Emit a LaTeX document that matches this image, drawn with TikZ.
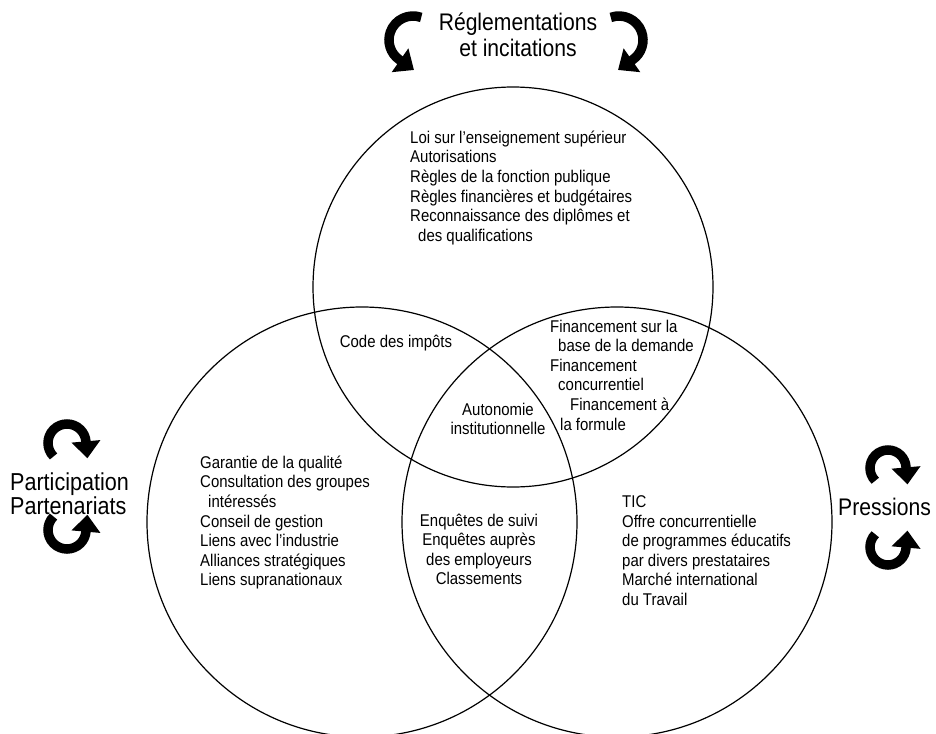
\documentclass[tikz,border=0pt]{standalone}
\usepackage{fontspec}
\setmainfont{Liberation Sans}[FakeStretch=0.88]
\usetikzlibrary{arrows.meta}
\begin{document}
\begin{tikzpicture}[x=1pt,y=1pt,
  ring/.style={draw, circle, line width=1.2pt, inner sep=0pt},
  body/.style={inner sep=0pt, align=left, anchor=north west, font=\fontsize{17}{19.6}\selectfont},
  bodyc/.style={inner sep=0pt, align=center, anchor=north, font=\fontsize{17}{19.6}\selectfont},
  big/.style={inner sep=0pt, font=\fontsize{24}{26}\selectfont},
  swirl/.style={line width=9.5pt, -{Triangle[length=17pt,width=28pt]}}]
\useasboundingbox (0,0) rectangle (936,-733);
\clip (0,0) rectangle (936,-733);
% circles
\node[ring, minimum size=400pt] (cT) at (513,-287) {};
\node[ring, minimum size=430pt] (cL) at (362,-522) {};
\node[ring, minimum size=430pt] (cR) at (617,-522) {};
% curved arrows
\draw[swirl] (413,-40) ++(70:24pt) arc[start angle=70, end angle=235, radius=24pt] -- ++(325:18pt);
\draw[swirl] (619,-40) ++(110:24pt) arc[start angle=110, end angle=-55, radius=24pt] -- ++(215:18pt);
\draw[swirl] (67,-443) ++(225:19pt) arc[start angle=225, end angle=5, radius=19pt] -- ++(-85:17pt);
\draw[swirl] (67,-530) ++(135:19pt) arc[start angle=135, end angle=355, radius=19pt] -- ++(85:17pt);
\draw[swirl] (888,-468) ++(225:18pt) arc[start angle=225, end angle=5, radius=18pt] -- ++(-85:18pt);
\draw[swirl] (888,-547) ++(135:18pt) arc[start angle=135, end angle=355, radius=18pt] -- ++(85:18pt);
% outer labels
\node[big, align=center] (title) at (518,-35) {Réglementations\\et incitations};
\node[big, align=left, anchor=north west, font=\fontsize{24.5}{22}\selectfont] (part) at (10,-473) {Participation\\Partenariats};
\node[big, anchor=base west] (press) at (838,-515) {Pressions};
% texts in circles
\node[body] (reg) at (410,-130.5) {Loi sur l’enseignement supérieur\\Autorisations\\Règles de la fonction publique\\Règles financières et budgétaires\\Reconnaissance des diplômes et\\\hspace*{8pt}des qualifications};
\node[inner sep=0pt, anchor=base, font=\fontsize{17}{19.6}\selectfont] (code) at (396,-347) {Code des impôts};
\node[body] (fin) at (550,-319.5) {Financement sur la\\\hspace*{8pt}base de la demande\\Financement\\\hspace*{8pt}concurrentiel\\\hspace*{20pt}Financement à\\\hspace*{10pt}la formule};
\node[bodyc] (auto) at (498,-402.5) {Autonomie\\institutionnelle};
\node[body] (qual) at (200,-455.5) {Garantie de la qualité\\Consultation des groupes\\\hspace*{8pt}intéressés\\Conseil de gestion\\Liens avec l’industrie\\Alliances stratégiques\\Liens supranationaux};
\node[bodyc] (enq) at (479,-513.5) {Enquêtes de suivi\\Enquêtes auprès\\des employeurs\\Classements};
\node[body] (tic) at (622,-495.5) {TIC\\Offre concurrentielle\\de programmes éducatifs\\par divers prestataires\\Marché international\\du Travail};
\end{tikzpicture}
\end{document}
